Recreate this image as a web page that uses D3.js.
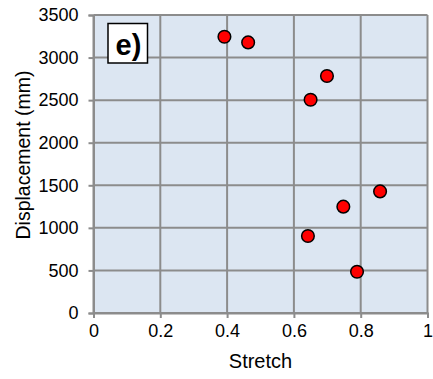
<!DOCTYPE html>
<html>
<head>
<meta charset="utf-8">
<script src="https://cdn.jsdelivr.net/npm/d3@7"></script>
<style>
  body { margin: 0; background: #fff; }
  text { font-family: "Liberation Sans", Arial, sans-serif; fill: #000; }
</style>
</head>
<body>
<div id="chart"></div>
<script>
// Data
const stretch = [0.392, 0.463, 0.699, 0.650, 0.858, 0.748, 0.642, 0.789];
const displacement = [3245, 3178, 2783, 2505, 1428, 1249, 904, 485];
const xTicks = [0, 0.2, 0.4, 0.6, 0.8, 1];
const yTicks = [0, 500, 1000, 1500, 2000, 2500, 3000, 3500];

const width = 433, height = 379;
const margin = {left: 93.5, right: 5.5, top: 15, bottom: 66};

const svg = d3.select("#chart")
    .append("svg")
    .attr("width", width)
    .attr("height", height);

const x = d3.scaleLinear().domain([0, 1]).range([margin.left, width - margin.right]);
const y = d3.scaleLinear().domain([0, 3500]).range([height - margin.bottom, margin.top]);

// plot background
svg.append("rect")
    .attr("x", x(0)).attr("y", y(3500))
    .attr("width", x(1) - x(0)).attr("height", y(0) - y(3500))
    .attr("fill", "#dce6f2");

// grid lines
svg.append("g").selectAll("line")
    .data(xTicks)
    .enter().append("line")
    .attr("x1", d => x(d)).attr("x2", d => x(d))
    .attr("y1", y(0)).attr("y2", y(3500))
    .attr("stroke", "#8c8c8c").attr("stroke-width", 2);

svg.append("g").selectAll("line")
    .data(yTicks)
    .enter().append("line")
    .attr("x1", x(0)).attr("x2", x(1))
    .attr("y1", d => y(d)).attr("y2", d => y(d))
    .attr("stroke", "#8c8c8c").attr("stroke-width", 2);

// axes
const xAxis = svg.append("g")
    .attr("transform", `translate(0, ${y(0)})`)
    .call(d3.axisBottom(x).tickValues(xTicks).tickSize(5).tickPadding(6)
        .tickFormat(d => d === 0 || d === 1 ? d3.format("d")(d) : d3.format(".1f")(d)));

const yAxis = svg.append("g")
    .attr("transform", `translate(${x(0)}, 0)`)
    .call(d3.axisLeft(y).tickValues(yTicks).tickSize(5).tickPadding(10)
        .tickFormat(d3.format("d")));

[xAxis, yAxis].forEach(function(a) {
    a.select(".domain").attr("stroke", "#8c8c8c").attr("stroke-width", 2);
    a.selectAll(".tick line").attr("stroke", "#8c8c8c").attr("stroke-width", 2);
    a.selectAll(".tick text")
        .attr("font-size", "18px")
        .attr("font-family", "'Liberation Sans', Arial, sans-serif")
        .attr("fill", "#000");
});

// axis titles
svg.append("text")
    .attr("x", x(0.5)).attr("y", 368)
    .attr("text-anchor", "middle")
    .attr("font-size", "20px")
    .text("Stretch");

svg.append("text")
    .attr("transform", `translate(30, 155) rotate(-90)`)
    .attr("text-anchor", "middle")
    .attr("font-size", "19.5px")
    .text("Displacement (mm)");

// panel label
svg.append("rect")
    .attr("x", 108).attr("y", 23.5)
    .attr("width", 39.5).attr("height", 39.5)
    .attr("fill", "#fff").attr("stroke", "#000").attr("stroke-width", 1.5);

svg.append("text")
    .attr("x", 128.5).attr("y", 54.5)
    .attr("text-anchor", "middle")
    .attr("font-size", "29px")
    .attr("font-weight", "bold")
    .text("e)");

// points
svg.append("g").selectAll("circle")
    .data(stretch.map((s, i) => [s, displacement[i]]))
    .enter().append("circle")
    .attr("cx", d => x(d[0]))
    .attr("cy", d => y(d[1]))
    .attr("r", 6.3)
    .attr("fill", "#ff0000")
    .attr("stroke", "#000")
    .attr("stroke-width", 1.5);
</script>
</body>
</html>
